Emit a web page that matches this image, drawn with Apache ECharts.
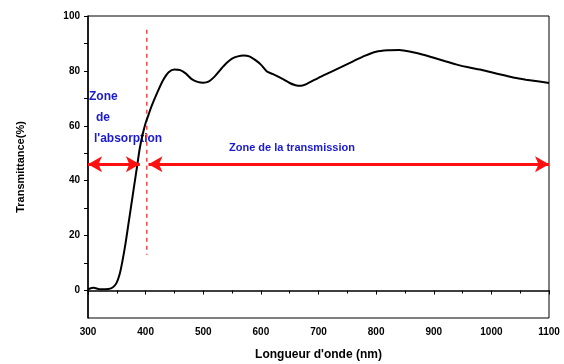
<!DOCTYPE html>
<html><head><meta charset="utf-8">
<script src="https://cdn.jsdelivr.net/npm/echarts@6/dist/echarts.min.js"></script>
<style>html,body{margin:0;padding:0;background:#fff}#c{width:564px;height:364px}</style>
</head><body><div id="c"></div>
<script>
const wavelength = [300,310,320,330,340,345,350,355,360,365,370,375,380,385,390,395,400,405,410,420,430,440,450,460,470,480,490,500,510,520,530,540,550,560,570,580,590,600,610,620,630,640,650,660,670,680,700,720,740,760,780,800,820,840,860,880,900,920,940,960,980,1000,1020,1040,1060,1080,1100];
const transmittance = [0.5,1.0,0.5,0.5,0.8,1.5,3,6,11,17,24,31,38,45,52,57,61,64,67,72,76.5,79.5,80.5,80.3,79,77,76,75.7,76.2,78,80.5,82.8,84.5,85.3,85.6,85.3,84,82.3,79.9,78.9,77.9,76.8,75.6,74.8,74.6,75.3,77.5,79.5,81.5,83.5,85.5,87,87.5,87.6,87,86,84.8,83.5,82.3,81.3,80.5,79.5,78.5,77.5,76.8,76.2,75.6];
const xTicks = [300,400,500,600,700,800,900,1000,1100];
const yTicks = [0,20,40,60,80,100];
const boundary = 402;
const arrowLevel = 46;
const absorptionArrow = [300, 390];
const transmissionArrow = [405, 1100];
const dashRange = [13, 95];

const chart = echarts.init(document.getElementById('c'));
const F = '"Liberation Sans", Arial, sans-serif';
const arrowStyle = {color: '#ff1010', type: 'solid', width: 3};
chart.setOption({
  animation: false,
  grid: {left: 88, right: 15, top: 16, bottom: 46, show: true, borderColor: '#000', borderWidth: 1,
    containLabel: false, outerBoundsMode: 'none'},
  xAxis: {
    type: 'value', min: 300, max: 1100, interval: 100,
    name: "Longueur d'onde (nm)", nameLocation: 'middle', nameGap: 31,
    nameTextStyle: {fontFamily: F, fontWeight: 'bold', fontSize: 12, color: '#000'},
    axisLine: {lineStyle: {color: '#000', width: 1.5}},
    axisTick: {length: 4, lineStyle: {color: '#000'}},
    minorTick: {show: true, splitNumber: 2, length: 3, lineStyle: {color: '#000'}},
    axisLabel: {fontFamily: F, fontSize: 10, fontWeight: 'bold', color: '#000', margin: 9,
      formatter: v => xTicks.includes(v) ? String(v) : ''},
    splitLine: {show: false}
  },
  yAxis: {
    type: 'value', min: -10, max: 100,
    interval: 10,
    name: 'Transmittance(%)', nameLocation: 'middle', nameGap: 62,
    nameTextStyle: {fontFamily: F, fontWeight: 'bold', fontSize: 11, color: '#000'},
    axisLine: {lineStyle: {color: '#000', width: 1.5}},
    axisTick: {length: 4, lineStyle: {color: '#000'},
      customValues: [0,10,20,30,40,50,60,70,80,90,100]},
    axisLabel: {fontFamily: F, fontSize: 10, fontWeight: 'bold', color: '#000', margin: 8,
      customValues: yTicks, formatter: v => String(v)},
    splitLine: {show: false}
  },
  series: [{
    type: 'line', data: wavelength.map((x, i) => [x, transmittance[i]]),
    showSymbol: false, smooth: 0.25,
    lineStyle: {color: '#000', width: 2},
    z: 3,
    markLine: {
      silent: true, animation: false,
      label: {show: false},
      data: [
        [{coord: [absorptionArrow[0], arrowLevel], symbol: 'arrow', symbolSize: [12, 14], lineStyle: arrowStyle},
         {coord: [absorptionArrow[1], arrowLevel], symbol: 'arrow', symbolSize: [12, 14], lineStyle: arrowStyle}],
        [{coord: [transmissionArrow[0], arrowLevel], symbol: 'arrow', symbolSize: [12, 14], lineStyle: arrowStyle},
         {coord: [transmissionArrow[1], arrowLevel], symbol: 'arrow', symbolSize: [12, 14], lineStyle: arrowStyle}]
      ]
    }
  }, {
    type: 'line', data: [[boundary, dashRange[1]], [boundary, dashRange[0]]],
    showSymbol: false, silent: true, z: 2,
    lineStyle: {color: '#f04848', type: [4, 4], width: 1.5}
  }],
  graphic: [
    {type: 'text', left: 89, top: 91, style: {text: 'Zone', font: 'bold 12px ' + F, fill: '#1a1ad0'}},
    {type: 'text', left: 96, top: 112, style: {text: 'de', font: 'bold 12px ' + F, fill: '#1a1ad0'}},
    {type: 'text', left: 94, top: 133, style: {text: "l'absorption", font: 'bold 12px ' + F, fill: '#1a1ad0'}},
    {type: 'text', left: 229, top: 142, style: {text: 'Zone de la transmission', font: 'bold 11px ' + F, fill: '#1a1ad0'}}
  ]
});
</script></body></html>
